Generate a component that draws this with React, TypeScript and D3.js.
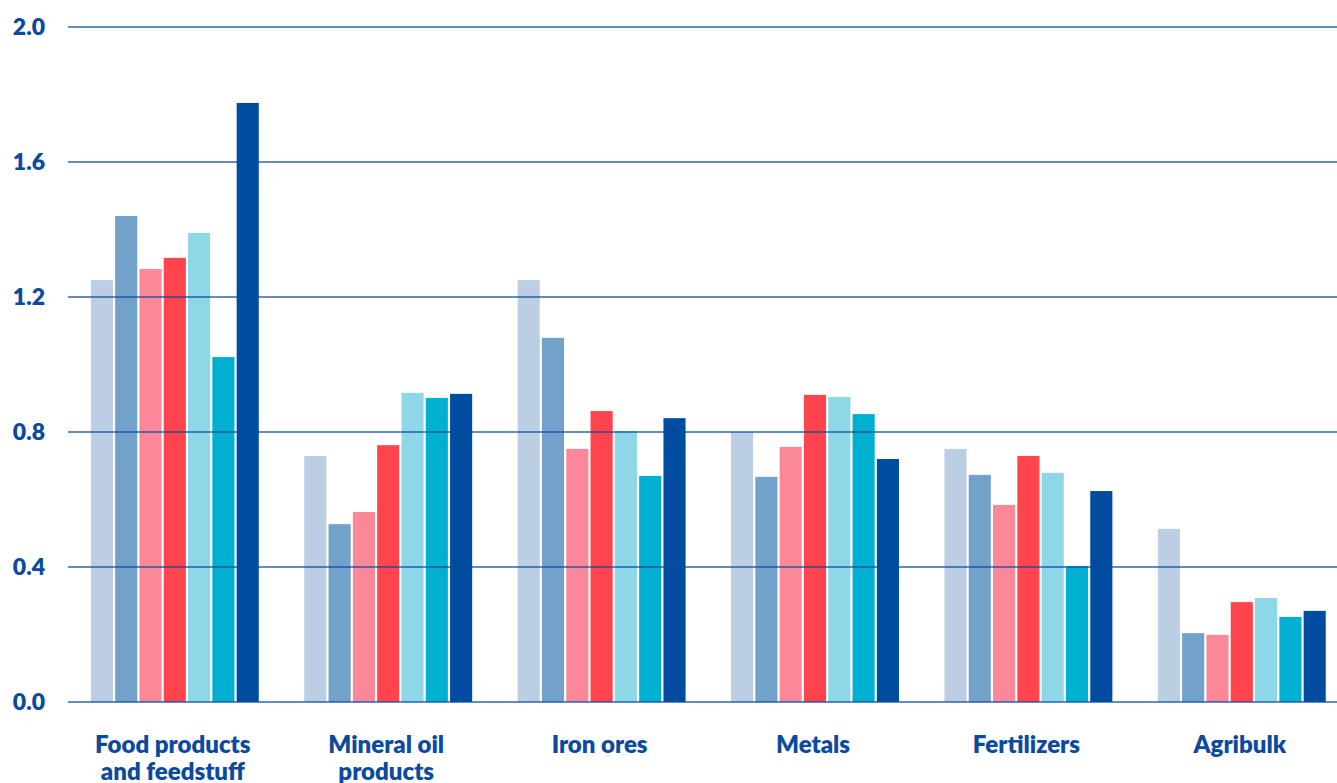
import React from "react";
import * as d3 from "d3";

const categories = [
  ["Food products", "and feedstuff"],
  ["Mineral oil", "products"],
  ["Iron ores"],
  ["Metals"],
  ["Fertilizers"],
  ["Agribulk"],
];

const seriesNames = ["s1", "s2", "s3", "s4", "s5", "s6", "s7"];
const seriesColors = ["#bccee4", "#72a1ca", "#fb8898", "#ff444e", "#8ed7e6", "#00b0d1", "#004ca0"];

const s1 = [1.25, 0.729, 1.25, 0.8, 0.75, 0.513];
const s2 = [1.44, 0.527, 1.079, 0.667, 0.673, 0.204];
const s3 = [1.283, 0.563, 0.75, 0.756, 0.584, 0.199];
const s4 = [1.316, 0.761, 0.862, 0.91, 0.729, 0.296];
const s5 = [1.39, 0.916, 0.803, 0.904, 0.679, 0.308];
const s6 = [1.022, 0.901, 0.67, 0.853, 0.403, 0.252];
const s7 = [1.775, 0.913, 0.841, 0.72, 0.625, 0.27];
const seriesValues = [s1, s2, s3, s4, s5, s6, s7];

const yTicks = [0, 0.4, 0.8, 1.2, 1.6, 2.0];

const W = 1337;
const H = 783;
const textColor = "#0b4a9e";
const font = "Lato, 'Open Sans', sans-serif";

export default function App() {
  const catKeys = categories.map((c) => c.join(" "));
  const x0 = d3
    .scaleBand<string>()
    .domain(catKeys)
    .range([68, 1348.6])
    .paddingInner(0.213)
    .paddingOuter(0.107);
  const x1 = d3
    .scaleBand<string>()
    .domain(seriesNames)
    .range([0, x0.bandwidth()])
    .paddingInner(0.09)
    .paddingOuter(0);
  const y = d3.scaleLinear().domain([0, 2]).range([702, 27]);

  return (
    <svg
      width={W}
      height={H}
      style={{ position: "fixed", left: 0, top: 0, background: "#fff" }}
      fontFamily={font}
    >
      <rect x={0} y={0} width={W} height={H} fill="#fff" />
      {catKeys.map((ck, ci) => (
        <g key={ck} transform={`translate(${x0(ck)},0)`}>
          {seriesNames.map((s, si) => {
            const v = seriesValues[si][ci];
            return (
              <rect
                key={s}
                x={x1(s)}
                y={y(v)}
                width={x1.bandwidth()}
                height={y(0) - y(v)}
                fill={seriesColors[si]}
              />
            );
          })}
        </g>
      ))}
      {yTicks.map((t) => (
        <g key={t}>
          <line
            x1={68}
            x2={W}
            y1={y(t)}
            y2={y(t)}
            stroke="#0b4a9e"
            strokeOpacity={0.85}
            strokeWidth={1.4}
          />
          <text
            x={45}
            y={y(t)}
            dy="0.36em"
            textAnchor="end"
            fontSize={23}
            fontWeight={800}
            fill={textColor}
          >
            {t.toFixed(1)}
          </text>
        </g>
      ))}
      {categories.map((lines, ci) => {
        const cx = (x0(catKeys[ci]) as number) + x0.bandwidth() / 2 - 2;
        return (
          <text
            key={catKeys[ci]}
            x={cx}
            y={753}
            textAnchor="middle"
            fontSize={24}
            fontWeight={800}
            fill={textColor}
          >
            {lines.map((l, li) => (
              <tspan key={li} x={cx} dy={li === 0 ? 0 : 27}>
                {l}
              </tspan>
            ))}
          </text>
        );
      })}
    </svg>
  );
}
